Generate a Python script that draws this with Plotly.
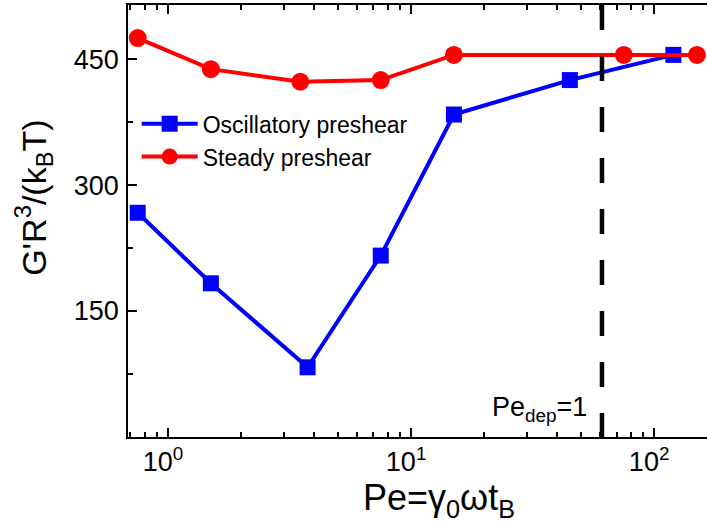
import numpy as np
import plotly.graph_objects as go

# ---- data ----
osc_pe = [0.75, 1.5, 3.75, 7.5, 15, 45, 120]
osc_g = [267, 183, 83, 216, 384, 425, 455]
steady_pe = [0.75, 1.5, 3.5, 7.5, 15, 75, 150]
steady_g = [475, 438, 423, 425, 455, 455, 455]
PE_DEP = 61
x_tickvals = [1, 10, 100]
x_ticktext = ["10<sup>0</sup>", "10<sup>1</sup>", "10<sup>2</sup>"]
x_minor = [0.7, 0.8, 0.9, 2, 3, 4, 5, 6, 7, 8, 9, 20, 30, 40, 50, 60, 70, 80, 90, 200]
y_tickvals = [150, 300, 450]
y_minor = [75, 225, 375]

FONT = "Liberation Sans, Arial, sans-serif"

fig = go.Figure()
fig.add_trace(go.Scatter(
    x=osc_pe, y=osc_g, mode="lines+markers", name="Oscillatory preshear",
    line=dict(color="#0000FF", width=4),
    marker=dict(symbol="square", size=16, color="#0000FF"),
))
fig.add_trace(go.Scatter(
    x=steady_pe, y=steady_g, mode="lines+markers", name="Steady preshear",
    line=dict(color="#FF0000", width=4),
    marker=dict(symbol="circle", size=18, color="#FF0000"),
))

# dashed reference line at Pe_dep = 1
fig.add_shape(type="line", xref="x", yref="paper",
              x0=PE_DEP, x1=PE_DEP, y0=1, y1=0,
              line=dict(color="black", width=4.5, dash="25px,26px"))
fig.add_annotation(x=np.log10(PE_DEP), xref="x", y=0, yref="paper",
                   text="Pe<sub>dep</sub>=1", showarrow=False,
                   xanchor="right", yanchor="bottom", xshift=-13, yshift=9,
                   font=dict(family=FONT, size=27, color="black"))

# axis titles
fig.add_annotation(x=0.5375, xref="paper", y=-0.146, yref="paper",
                   text="Pe=γ<sub>0</sub>ωt<sub>B</sub>", showarrow=False,
                   xanchor="center", yanchor="middle",
                   font=dict(family=FONT, size=36, color="black"))
fig.add_annotation(x=-0.163, xref="paper", y=0.555, yref="paper",
                   text="G'R<sup>3</sup>/(k<sub>B</sub>T)", showarrow=False,
                   textangle=-90, xanchor="center", yanchor="middle",
                   font=dict(family=FONT, size=34, color="black"))

fig.update_xaxes(
    type="log", range=[np.log10(0.684), np.log10(165)],
    showline=True, linecolor="black", linewidth=1.5, mirror="ticks",
    ticks="inside", ticklen=9, tickwidth=1.5, tickcolor="black",
    tickmode="array", tickvals=x_tickvals, ticktext=x_ticktext,
    ticklabelshift=-5,
    minor=dict(tickmode="array", tickvals=x_minor, ticks="inside",
               ticklen=5, tickwidth=1.5, tickcolor="black", showgrid=False),
    showgrid=False, zeroline=False,
    tickfont=dict(family=FONT, size=27, color="black"),
)
fig.update_yaxes(
    range=[0, 514.4],
    showline=True, linecolor="black", linewidth=1.5, mirror=False,
    ticks="inside", ticklen=9, tickwidth=1.5, tickcolor="black",
    tickmode="array", tickvals=y_tickvals,
    ticklabelstandoff=2,
    minor=dict(tickmode="array", tickvals=y_minor, ticks="inside",
               ticklen=5, tickwidth=1.5, tickcolor="black", showgrid=False),
    showgrid=False, zeroline=False,
    tickfont=dict(family=FONT, size=27, color="black"),
)

fig.update_layout(
    width=707, height=529,
    margin=dict(l=128, r=0, t=5, b=92),
    paper_bgcolor="white", plot_bgcolor="white",
    font=dict(family=FONT, color="black"),
    showlegend=True,
    legend=dict(x=0.015, y=0.775, xanchor="left", yanchor="top",
                bgcolor="rgba(0,0,0,0)", borderwidth=0,
                font=dict(family=FONT, size=23, color="black"),
                tracegroupgap=0, itemwidth=56),
)

fig.write_html("out.html")
